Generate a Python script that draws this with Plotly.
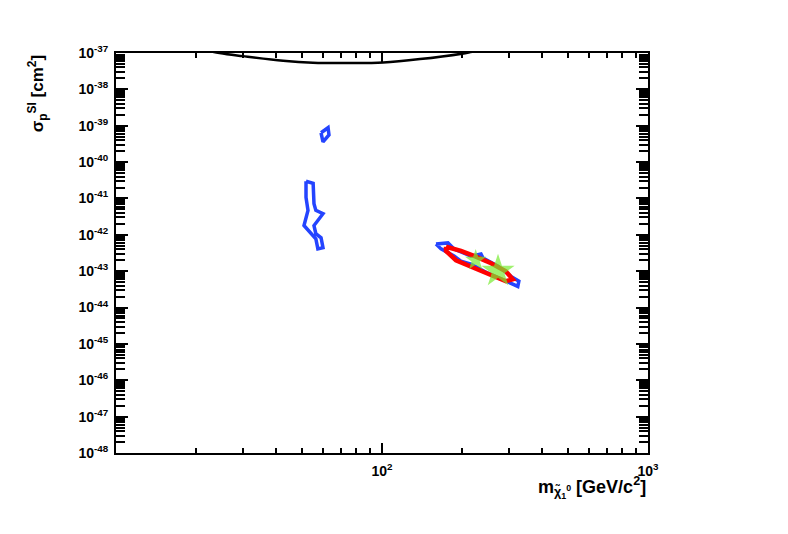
import plotly.graph_objects as go

# ---- data ----
limit_x = [19.0, 24.5, 30.0, 42.5, 55.0, 75.9, 101.0, 139.0, 200.0, 225.0, 300.0]
limit_y = [1.45e-37, 1.0e-37, 8.2e-38, 6.1e-38, 5.4e-38, 5.3e-38, 5.5e-38, 6.8e-38, 9.6e-38, 1.12e-37, 1.4e-37]

blue_a_x = [51.8, 55.1, 55.5, 56.4, 60.0, 57.4, 55.5, 56.4, 59.0, 60.0, 57.4, 56.4, 53.2, 50.9, 52.7, 51.8, 51.8]
blue_a_y = [2.97e-41, 2.6e-41, 7.2e-42, 4.7e-42, 3.8e-42, 2.4e-42, 1.8e-42, 1.07e-42, 8.3e-43,
            4.4e-43, 4.1e-43, 7.8e-43, 1.3e-42, 1.8e-42, 4.7e-42, 1.07e-41, 2.97e-41]

blue_b_x = [59.0, 62.7, 63.2, 60.0, 59.0]
blue_b_y = [6.4e-40, 8.8e-40, 5.6e-40, 3.6e-40, 6.4e-40]

blue_c_x = [159.6, 177, 186.6, 216, 235.6, 239.8, 273, 305.5, 327, 324, 310, 280, 250, 216, 198, 186.6, 166.7, 159.6]
blue_c_y = [5.6e-43, 6.0e-43, 4.1e-43, 2.6e-43, 2.96e-43, 2.3e-43, 1.38e-43, 7.2e-44, 5.3e-44,
            3.8e-44, 4.4e-44, 6.0e-44, 8.8e-44, 1.56e-43, 1.9e-43, 2.6e-43, 4.1e-43, 5.6e-43]

red_x = [174, 198, 225.4, 257, 292, 310, 292, 257, 216, 189.7, 174, 174]
red_y = [4.7e-43, 3.6e-43, 2.5e-43, 1.66e-43, 1.0e-43, 6.0e-44, 5.3e-44, 7.8e-44, 1.38e-43, 2.0e-43, 3.6e-43, 4.7e-43]

star_x = [225.0, 273.0]
star_y = [2.0e-43, 1.0e-43]
star_size = [16, 25]

y_tickvals = [10.0 ** -e for e in range(37, 49)]
y_ticktext = ["10<sup>-%d</sup>" % e for e in range(37, 49)]
x_tickvals = [100, 1000]
x_ticktext = ["10<sup>2</sup>", "10<sup>3</sup>"]

FONT = "Liberation Sans, Arial, Helvetica, sans-serif"

fig = go.Figure()
fig.add_trace(go.Scatter(x=limit_x, y=limit_y, mode="lines",
                         line=dict(color="black", width=2.5, shape="spline")))
for xs, ys in [(blue_a_x, blue_a_y), (blue_b_x, blue_b_y), (blue_c_x, blue_c_y)]:
    fig.add_trace(go.Scatter(x=xs, y=ys, mode="lines", line=dict(color="#2444ff", width=3.5)))
fig.add_trace(go.Scatter(x=red_x, y=red_y, mode="lines", line=dict(color="#ff0000", width=4.5)))
fig.add_trace(go.Scatter(x=star_x, y=star_y, mode="markers",
                         marker=dict(symbol="star", size=star_size, color="#78eb32",
                                     line=dict(width=0))))

axis_common = dict(type="log", showgrid=False, zeroline=False, showline=True, mirror="allticks",
                   linecolor="black", linewidth=2, ticks="inside", tickcolor="black",
                   automargin=False,
                   tickfont=dict(family=FONT, size=14, color="black", weight="bold"))

fig.update_xaxes(range=[1, 3], tickvals=x_tickvals, ticktext=x_ticktext, ticklen=10, tickwidth=2,
                 ticklabelstandoff=4,
                 minor=dict(ticks="inside", ticklen=5, tickwidth=2, tickcolor="black", dtick="D1"),
                 **axis_common)
fig.update_yaxes(range=[-48, -37], tickvals=y_tickvals, ticktext=y_ticktext, ticklen=12, tickwidth=2,
                 ticklabelstandoff=3,
                 minor=dict(ticks="inside", ticklen=9, tickwidth=1.5, tickcolor="black", dtick="D1"),
                 **axis_common)

fig.add_annotation(text="m<sub>χ̃<sub>1</sub><sup>0</sup></sub> [GeV/c<sup>2</sup>]",
                   xref="paper", yref="paper", x=1.0, y=-0.085, xanchor="right", yanchor="middle",
                   showarrow=False, font=dict(family=FONT, size=18, color="black", weight="bold"))
fig.add_annotation(text="σ<sub>p</sub><sup>SI</sup> [cm<sup>2</sup>]",
                   xref="paper", yref="paper", x=-0.147, y=1.0, xanchor="center", yanchor="top",
                   textangle=-90, showarrow=False,
                   font=dict(family=FONT, size=17, color="black", weight="bold"))

# the page adds an 8px body margin, so the figure is drawn shifted by 8px
fig.update_layout(width=788, height=534, margin=dict(l=108, r=148, t=45, b=89),
                  plot_bgcolor="white", paper_bgcolor="white", showlegend=False)

fig.write_html("out.html")
